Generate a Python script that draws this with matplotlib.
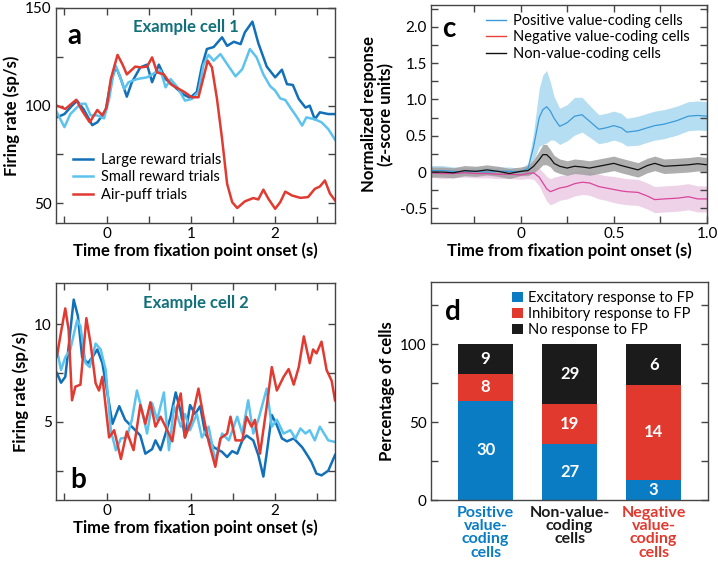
import numpy as np
import matplotlib
matplotlib.use("Agg")
import matplotlib.pyplot as plt
from matplotlib.ticker import MultipleLocator, FixedLocator
from matplotlib.lines import Line2D

plt.rcParams['font.family'] = ['Lato', 'DejaVu Sans']

# ---- panel a : example cell 1 (firing rate, sp/s) ----
a_large_t = [-0.59, -0.5, -0.41, -0.35, -0.27, -0.17, -0.11, -0.05, -0.01, 0.05, 0.11, 0.17,
             0.24, 0.30, 0.40, 0.48, 0.54, 0.62, 0.70, 0.80, 0.90, 0.99, 1.07, 1.13, 1.19,
             1.27, 1.37, 1.43, 1.51, 1.59, 1.64, 1.73, 1.80, 1.90, 2.0, 2.08, 2.14, 2.21,
             2.28, 2.36, 2.41, 2.47, 2.53, 2.63, 2.71]
a_large_v = [94, 95.7, 100, 102.5, 98, 90, 91.5, 95, 98, 112, 120, 113.6,
             104.6, 112, 119.6, 121, 112, 121, 113.6, 110, 106, 104, 107, 120, 129,
             130, 135, 130.6, 132.7, 131.5, 137.5, 143, 132, 120, 114.5, 118.4, 111, 110.6,
             103.4, 99, 100, 93, 96.6, 95.7, 95.7]

a_small_t = [-0.59, -0.5, -0.43, -0.31, -0.25, -0.19, -0.11, -0.03, 0.03, 0.10, 0.15, 0.21,
             0.26, 0.36, 0.48, 0.58, 0.64, 0.70, 0.76, 0.84, 0.93, 1.01, 1.09, 1.15, 1.21,
             1.27, 1.35, 1.45, 1.53, 1.61, 1.70, 1.78, 1.86, 1.94, 2.0, 2.06, 2.12, 2.18,
             2.26, 2.32, 2.37, 2.47, 2.55, 2.63, 2.71]
a_small_v = [96.6, 89, 95.7, 100.9, 101, 95, 95, 93.5, 103.4, 121, 116, 108.5,
             112, 113.6, 114.5, 117, 118, 109.4, 113.6, 109.4, 102.6, 103.4, 107, 121, 126,
             123, 126.4, 120, 115, 118.7, 129, 124.7, 116, 110, 107.7, 103.7, 102.9, 99,
             94, 89.8, 94, 93, 91.5, 88, 82.6]

a_puff_t = [-0.59, -0.49, -0.36, -0.29, -0.2, -0.11, -0.05, 0.0, 0.05, 0.13, 0.19, 0.24,
            0.34, 0.40, 0.48, 0.54, 0.60, 0.68, 0.76, 0.86, 0.93, 1.01, 1.09, 1.15, 1.20,
            1.25, 1.31, 1.37, 1.43, 1.49, 1.55, 1.64, 1.74, 1.80, 1.86, 1.92, 2.0, 2.06,
            2.12, 2.2, 2.30, 2.39, 2.47, 2.53, 2.59, 2.65, 2.71]
a_puff_v = [100, 98.3, 103, 97.4, 91.5, 97.8, 95, 99, 113.6, 126, 121, 116,
            120, 119.6, 120, 124.7, 117, 116, 111, 108.5, 106.8, 104.3, 104.3, 114.5, 123,
            119.6, 103.4, 83, 60, 50.6, 47.6, 51, 52.7, 52, 57, 52.3, 47.2, 50.6,
            56, 54, 52.8, 53.2, 57.4, 58.6, 61.7, 55, 51.5]

# ---- panel b : example cell 2 ----
b_large_t = [-0.59, -0.54, -0.49, -0.45, -0.39, -0.34, -0.29, -0.22, -0.17, -0.11, -0.05, 0.01,
             0.07, 0.15, 0.22, 0.32, 0.40, 0.46, 0.54, 0.58, 0.64, 0.70, 0.76, 0.82, 0.88,
             0.93, 0.99, 1.05, 1.11, 1.17, 1.27, 1.37, 1.43, 1.49, 1.55, 1.61, 1.66, 1.74,
             1.80, 1.86, 1.90, 1.96, 2.02, 2.08, 2.14, 2.22, 2.32, 2.37, 2.43, 2.49, 2.55,
             2.63, 2.71]
b_large_v = [7.5, 7.0, 7.3, 8.85, 11.25, 10.4, 8.3, 8.0, 8.3, 8.7, 8.0, 6.45,
             4.9, 5.8, 5.1, 4.66, 4.3, 3.37, 3.6, 4.05, 3.55, 4.4, 5.26, 6.5, 5.5,
             4.2, 5.86, 5.4, 5.8, 4.4, 3.7, 3.46, 3.2, 3.5, 3.37, 4.05, 4.3, 4.05,
             3.3, 2.2, 3.4, 5.35, 4.83, 4.15, 4.0, 4.15, 3.7, 3.37, 2.95, 2.35, 2.26,
             2.5, 3.3]

b_small_t = [-0.59, -0.54, -0.49, -0.43, -0.35, -0.31, -0.25, -0.2, -0.13, -0.07, -0.01, 0.05,
             0.11, 0.17, 0.24, 0.30, 0.36, 0.42, 0.48, 0.54, 0.60, 0.68, 0.74, 0.80, 0.88,
             0.93, 0.99, 1.07, 1.13, 1.21, 1.29, 1.37, 1.45, 1.55, 1.61, 1.68, 1.74, 1.80,
             1.90, 1.96, 2.02, 2.1, 2.18, 2.24, 2.30, 2.36, 2.41, 2.47, 2.53, 2.63, 2.71]
b_small_v = [8.7, 7.65, 8.3, 8.7, 10.2, 9.9, 8.0, 7.8, 9.0, 8.7, 7.65, 4.57,
             3.54, 4.15, 4.2, 5.1, 6.6, 5.6, 4.4, 5.95, 5.1, 6.5, 3.55, 5.8, 4.75,
             5.4, 4.57, 5.4, 4.2, 4.75, 3.0, 4.4, 4.05, 5.26, 4.4, 6.1, 4.4, 5.1,
             6.7, 4.75, 5.1, 4.4, 4.57, 4.15, 4.66, 4.4, 4.57, 4.05, 4.75, 4.05, 3.97]

b_puff_t = [-0.59, -0.54, -0.49, -0.45, -0.41, -0.37, -0.31, -0.24, -0.19, -0.13, -0.09, -0.05,
            0.03, 0.09, 0.17, 0.24, 0.32, 0.40, 0.46, 0.52, 0.58, 0.64, 0.70, 0.78, 0.84,
            0.88, 0.93, 1.01, 1.09, 1.15, 1.21, 1.29, 1.35, 1.43, 1.47, 1.53, 1.61, 1.66,
            1.72, 1.76, 1.82, 1.90, 1.96, 2.02, 2.10, 2.16, 2.22, 2.28, 2.34, 2.41, 2.45,
            2.49, 2.55, 2.61, 2.67, 2.71]
b_puff_v = [8.34, 9.6, 10.8, 9.7, 6.1, 6.8, 6.9, 10.3, 9.0, 6.97, 6.6, 7.3,
            4.2, 4.57, 3.1, 4.5, 3.55, 5.86, 4.9, 6.0, 4.75, 5.26, 4.75, 4.0, 5.8,
            6.45, 4.2, 5.1, 6.7, 5.26, 4.0, 2.7, 4.15, 4.4, 5.26, 4.05, 4.05, 5.26,
            4.75, 5.1, 3.37, 5.8, 7.8, 6.6, 7.3, 7.7, 6.9, 7.8, 9.37, 8.0, 8.7,
            8.5, 9.1, 7.65, 7.1, 6.1]

# ---- panel c : population z-score ----
c_t = [-0.48, -0.42, -0.36, -0.3, -0.24, -0.18, -0.12, -0.06, 0.0, 0.04, 0.07, 0.1, 0.12,
       0.14, 0.16, 0.18, 0.21, 0.25, 0.29, 0.33, 0.37, 0.42, 0.46, 0.5, 0.54, 0.57, 0.63,
       0.68, 0.72, 0.77, 0.84, 0.9, 0.95, 1.0]
c_pos = [0.02, 0.02, 0.01, 0.0, 0.01, 0.0, 0.01, 0.01, 0.0, 0.05, 0.35, 0.75, 0.86,
         0.9, 0.84, 0.74, 0.63, 0.68, 0.77, 0.79, 0.70, 0.59, 0.61, 0.64, 0.61, 0.55, 0.57,
         0.61, 0.64, 0.66, 0.71, 0.77, 0.78, 0.77]
c_pos_err = [0.07, 0.07, 0.06, 0.06, 0.06, 0.06, 0.06, 0.06, 0.05, 0.07, 0.2, 0.4, 0.48,
             0.5, 0.4, 0.3, 0.25, 0.25, 0.26, 0.24, 0.22, 0.2, 0.2, 0.2, 0.2, 0.19, 0.2,
             0.2, 0.2, 0.2, 0.2, 0.2, 0.2, 0.2]
c_neg = [-0.01, -0.02, -0.02, -0.01, -0.02, -0.02, -0.03, -0.03, -0.04, -0.02, -0.01, -0.07, -0.15,
         -0.23, -0.27, -0.25, -0.22, -0.2, -0.16, -0.14, -0.15, -0.2, -0.22, -0.24, -0.26, -0.27, -0.28,
         -0.33, -0.38, -0.37, -0.36, -0.34, -0.37, -0.37]
c_neg_err = [0.06, 0.07, 0.06, 0.06, 0.06, 0.06, 0.06, 0.06, 0.06, 0.07, 0.09, 0.12, 0.15,
             0.17, 0.18, 0.18, 0.17, 0.17, 0.17, 0.17, 0.17, 0.17, 0.17, 0.18, 0.18, 0.18, 0.18,
             0.18, 0.18, 0.18, 0.18, 0.18, 0.18, 0.18]
c_non = [0.0, 0.0, -0.01, 0.02, 0.01, 0.03, 0.01, -0.02, 0.01, 0.02, 0.08, 0.17, 0.24,
         0.24, 0.19, 0.12, 0.08, 0.055, 0.08, 0.07, 0.055, 0.08, 0.1, 0.12, 0.09, 0.07, 0.03,
         0.09, 0.12, 0.08, 0.09, 0.1, 0.115, 0.1]
c_non_err = [0.07, 0.07, 0.07, 0.07, 0.07, 0.07, 0.07, 0.07, 0.06, 0.07, 0.09, 0.12, 0.14,
             0.14, 0.12, 0.11, 0.1, 0.1, 0.1, 0.1, 0.1, 0.1, 0.1, 0.1, 0.1, 0.1, 0.1,
             0.1, 0.1, 0.1, 0.1, 0.1, 0.1, 0.1]

# ---- panel d : response counts ----
d_groups = ["Positive\nvalue-\ncoding\ncells", "Non-value-\ncoding\ncells", "Negative\nvalue-\ncoding\ncells"]
d_excit = [30, 27, 3]
d_inhib = [8, 19, 14]
d_none = [9, 29, 6]

DBLUE = "#1170b8"
LBLUE = "#5cc3ef"
RED = "#e03a31"
TEAL = "#11707a"
SPINE = "#444444"


def style_axes(ax):
    for s in ax.spines.values():
        s.set_color(SPINE)
        s.set_linewidth(1.0)
    ax.tick_params(which="both", direction="in", top=True, right=True,
                   color=SPINE, length=5, width=1.0, labelsize=11, pad=3)


fig = plt.figure(figsize=(7.18, 5.70), dpi=100)

ax_a = fig.add_axes([0.078, 0.609, 0.3886, 0.377])
ax_b = fig.add_axes([0.078, 0.1228, 0.3886, 0.3807])
ax_c = fig.add_axes([0.6003, 0.609, 0.3844, 0.382])
ax_d = fig.add_axes([0.6003, 0.1228, 0.386, 0.3825])

lbl_kw = dict(fontsize=12, fontweight="bold")

# panel a
ax_a.plot(a_large_t, a_large_v, color=DBLUE, lw=1.8, label="Large reward trials")
ax_a.plot(a_small_t, a_small_v, color=LBLUE, lw=1.8, label="Small reward trials")
ax_a.plot(a_puff_t, a_puff_v, color=RED, lw=1.8, label="Air-puff trials")
ax_a.set_xlim(-0.6, 2.71)
ax_a.set_ylim(40, 150)
ax_a.xaxis.set_major_locator(FixedLocator([0, 1, 2]))
ax_a.xaxis.set_minor_locator(MultipleLocator(0.5))
ax_a.yaxis.set_major_locator(FixedLocator([50, 100, 150]))
ax_a.yaxis.set_minor_locator(MultipleLocator(25))
style_axes(ax_a)
ax_a.set_xlabel("Time from fixation point onset (s)", labelpad=1, **lbl_kw)
ax_a.set_ylabel("Firing rate (sp/s)", labelpad=4, **lbl_kw)
ax_a.legend(loc="lower left", bbox_to_anchor=(0.04, 0.07), frameon=False, fontsize=10.5,
            handlelength=1.4, handletextpad=0.5, labelspacing=0.25, borderaxespad=0)
ax_a.text(0.04, 0.93, "a", transform=ax_a.transAxes, fontsize=20, fontweight="bold", va="top")
ax_a.text(0.465, 0.91, "Example cell 1", transform=ax_a.transAxes, fontsize=12,
          fontweight="bold", color=TEAL, ha="center", va="center")

# panel b
ax_b.plot(b_large_t, b_large_v, color=DBLUE, lw=1.8)
ax_b.plot(b_small_t, b_small_v, color=LBLUE, lw=1.8)
ax_b.plot(b_puff_t, b_puff_v, color=RED, lw=1.8)
ax_b.set_xlim(-0.6, 2.71)
ax_b.set_ylim(1.0, 12.1)
ax_b.xaxis.set_major_locator(FixedLocator([0, 1, 2]))
ax_b.xaxis.set_minor_locator(MultipleLocator(0.5))
ax_b.yaxis.set_major_locator(FixedLocator([5, 10]))
ax_b.yaxis.set_minor_locator(MultipleLocator(2.5))
style_axes(ax_b)
ax_b.set_xlabel("Time from fixation point onset (s)", labelpad=1, **lbl_kw)
ax_b.set_ylabel("Firing rate (sp/s)", labelpad=4, **lbl_kw)
ax_b.text(0.05, 0.03, "b", transform=ax_b.transAxes, fontsize=20, fontweight="bold", va="bottom")
ax_b.text(0.5, 0.91, "Example cell 2", transform=ax_b.transAxes, fontsize=12,
          fontweight="bold", color=TEAL, ha="center", va="center")

# panel c
t = np.array(c_t)
series = [
    (c_pos, c_pos_err, "#3b9ad9", "#a9d9f0", "Positive value-coding cells"),
    (c_neg, c_neg_err, "#d9459b", "#eccbe4", "Negative value-coding cells"),
    (c_non, c_non_err, "#111111", "#a0a0a0", "Non-value-coding cells"),
]
for m, e, lc, fc, _ in series:
    m = np.array(m)
    e = np.array(e)
    ax_c.fill_between(t, m - e, m + e, color=fc, lw=0, alpha=0.85)
for m, e, lc, fc, _ in series:
    ax_c.plot(t, m, color=lc, lw=0.9)
ax_c.set_xlim(-0.48, 1.0)
ax_c.set_ylim(-0.7, 2.3)
ax_c.xaxis.set_major_locator(FixedLocator([0, 0.5, 1.0]))
ax_c.set_xticklabels(["0", "0.5", "1.0"])
ax_c.xaxis.set_minor_locator(MultipleLocator(0.25))
ax_c.yaxis.set_major_locator(FixedLocator([-0.5, 0, 0.5, 1.0, 1.5, 2.0]))
ax_c.set_yticklabels(["-0.5", "0", "0.5", "1.0", "1.5", "2.0"])
ax_c.yaxis.set_minor_locator(MultipleLocator(0.25))
style_axes(ax_c)
ax_c.set_xlabel("Time from fixation point onset (s)", labelpad=1, **lbl_kw)
ax_c.set_ylabel("Normalized response\n(z-score units)", labelpad=4, linespacing=1.1, **lbl_kw)
handles = [Line2D([0], [0], color=c, lw=1.0) for c in ["#3b9ad9", "#e8403a", "#111111"]]
ax_c.legend(handles, [s[4] for s in series], loc="upper right", bbox_to_anchor=(0.96, 0.985),
            frameon=False, fontsize=10.5, handlelength=1.4, handletextpad=0.5,
            labelspacing=0.15, borderaxespad=0)
ax_c.text(0.04, 0.95, "c", transform=ax_c.transAxes, fontsize=20, fontweight="bold", va="top")

# panel d
exc = np.array(d_excit, dtype=float)
inh = np.array(d_inhib, dtype=float)
non = np.array(d_none, dtype=float)
tot = exc + inh + non
p_exc = exc / tot * 100
p_inh = inh / tot * 100
p_non = non / tot * 100
xpos = np.arange(len(d_groups))
BBLUE, BRED, BBLACK = "#0a7cc4", "#e2392e", "#1b1b1b"
ax_d.bar(xpos, p_exc, width=0.66, color=BBLUE, label="Excitatory response to FP")
ax_d.bar(xpos, p_inh, width=0.66, bottom=p_exc, color=BRED, label="Inhibitory response to FP")
ax_d.bar(xpos, p_non, width=0.66, bottom=p_exc + p_inh, color=BBLACK, label="No response to FP")
for i in range(len(xpos)):
    ax_d.text(xpos[i], p_exc[i] / 2, "%d" % exc[i], color="white", fontsize=12,
              fontweight="bold", ha="center", va="center")
    ax_d.text(xpos[i], p_exc[i] + p_inh[i] / 2, "%d" % inh[i], color="white", fontsize=12,
              fontweight="bold", ha="center", va="center")
    ax_d.text(xpos[i], p_exc[i] + p_inh[i] + p_non[i] / 2, "%d" % non[i], color="white",
              fontsize=12, fontweight="bold", ha="center", va="center")
ax_d.set_xlim(-0.65, 2.65)
ax_d.set_ylim(0, 140)
ax_d.yaxis.set_major_locator(FixedLocator([0, 50, 100]))
ax_d.yaxis.set_minor_locator(MultipleLocator(25))
style_axes(ax_d)
ax_d.tick_params(axis="x", which="both", bottom=False, top=False)
ax_d.set_xticks(xpos)
ax_d.set_xticklabels(d_groups, fontsize=11.5, fontweight="bold", linespacing=0.95)
for lab, col in zip(ax_d.get_xticklabels(), [BBLUE, "#1b1b1b", BRED]):
    lab.set_color(col)
ax_d.tick_params(axis="x", pad=4)
ax_d.set_ylabel("Percentage of cells", labelpad=4, **lbl_kw)
ax_d.legend(loc="upper right", bbox_to_anchor=(0.97, 0.985), frameon=False, fontsize=10.5,
            handlelength=0.7, handleheight=0.7, handletextpad=0.4, labelspacing=0.15,
            borderaxespad=0)
ax_d.text(0.05, 0.92, "d", transform=ax_d.transAxes, fontsize=20, fontweight="bold", va="top")

fig.savefig("out.png", dpi=100)
